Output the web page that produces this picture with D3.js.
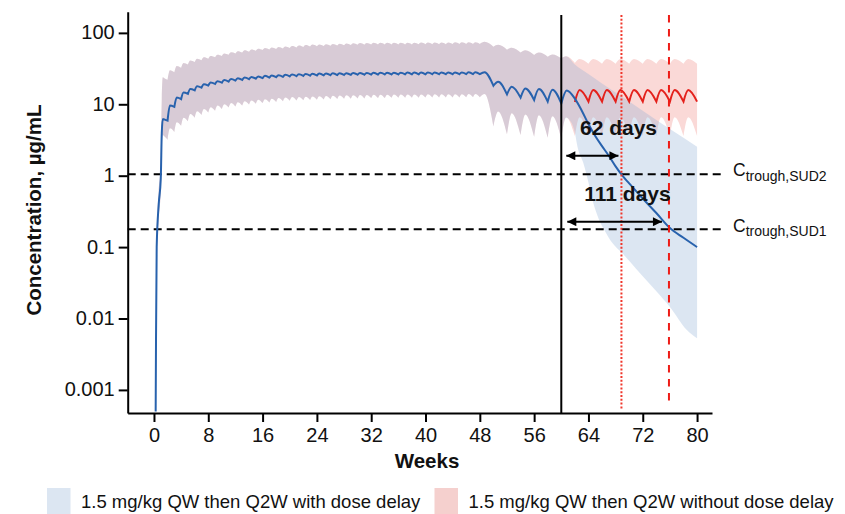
<!DOCTYPE html>
<html>
<head>
<meta charset="utf-8">
<script src="https://cdn.jsdelivr.net/npm/d3@7"></script>
<style>
  body { margin: 0; background: #fff; }
  text { font-family: "Liberation Sans", Arial, sans-serif; fill: #111; }
</style>
</head>
<body>
<div id="wrapper"></div>
<script>
// ---- data (weeks, concentration in ug/mL) ----

const weekTicks = [0, 8, 16, 24, 32, 40, 48, 56, 64, 72, 80];
const concTicks = [0.001, 0.01, 0.1, 1, 10, 100];
const concTickLabels = ["0.001", "0.01", "0.1", "1", "10", "100"];

// first dose absorption (weeks 0-2)
const loadWeeks   = [0.25, 0.3, 0.4, 0.7, 1.0, 1.15, 1.3, 1.6, 2];
const medianLoad  = [0.0005, 0.005, 0.1, 0.4, 0.9, 4.0, 6.2, 6.1, 5.9];
const upperLoad   = [0.0005, 0.006, 0.13, 0.6, 1.5, 12, 24, 23, 22];
const lowerLoad   = [0.0005, 0.004, 0.07, 0.25, 0.6, 2.4, 3.7, 3.5, 3.2];

// shared dosing, QW to week 48 then Q2W to week 60
const sharedDoses = [2, 3, 4, 5, 6, 7, 8, 9, 10, 11, 12, 13, 14, 15, 16, 17, 18, 19, 20, 21, 22, 23, 24,
  25, 26, 27, 28, 29, 30, 31, 32, 33, 34, 35, 36, 37, 38, 39, 40, 41, 42, 43, 44, 45, 46, 47, 48,
  50, 52, 54, 56, 58, 60];
const medianTrough = [5.9, 9.2, 11.8, 14.0, 15.7, 17.1, 18.3, 19.3, 20.1, 20.8, 21.5, 22.0, 22.5, 22.9,
  23.3, 23.7, 24.0, 24.3, 24.6, 24.8, 25.0, 25.2, 25.3, 25.5, 25.6, 25.7, 25.8, 25.9, 26.0, 26.0, 26.1,
  26.1, 26.2, 26.2, 26.2, 26.3, 26.3, 26.3, 26.3, 26.4, 26.4, 26.4, 26.4, 26.4, 26.5, 26.5, 26.5,
  18.2, 13.8, 12.4, 11.5, 10.9, 10.3];
const medianPeak = [9.6, 12.4, 14.6, 16.4, 17.9, 19.1, 20.2, 21.1, 21.9, 22.6, 23.2, 23.7, 24.2, 24.6,
  25.0, 25.3, 25.6, 25.9, 26.1, 26.3, 26.5, 26.7, 26.9, 27.0, 27.1, 27.2, 27.3, 27.4, 27.5, 27.5, 27.6,
  27.6, 27.7, 27.7, 27.7, 27.8, 27.8, 27.8, 27.8, 27.9, 27.9, 27.9, 27.9, 27.9, 28.0, 28.0,
  28.2, 20.7, 17.6, 16.7, 16.4, 16.0];
const upperTrough = [22, 28, 32.5, 36, 39, 41.5, 43.5, 45.5, 47.5, 49.5, 51.5, 53, 54.5, 56, 57.5, 58.5,
  59.5, 60.5, 61.5, 62.5, 63.5, 64.5, 65, 65.5, 66, 66.5, 67, 67.5, 68, 68, 68.5, 68.5, 68.5, 69, 69, 69,
  69, 69.5, 69.5, 69.5, 69.5, 69.5, 70, 70, 70, 70, 70,
  64, 58, 53, 49, 46.5, 44];
const upperPeak = [30, 34.5, 38, 41, 43.5, 45.5, 47.5, 49.5, 51.5, 53.5, 55.5, 57, 58.5, 60, 61.5, 62.5,
  63.5, 64.5, 65.5, 66.5, 67.5, 68.5, 69, 69.5, 70, 70.5, 71, 71.5, 72, 72, 72.5, 72.5, 72.5, 73, 73, 73,
  73, 73.5, 73.5, 73.5, 73.5, 73.5, 74, 74, 74, 74,
  75, 68, 62, 57, 53, 50];
const lowerTrough = [3.2, 4.1, 5.0, 5.8, 6.5, 7.1, 7.7, 8.1, 8.6, 9.0, 9.3, 9.6, 9.9, 10.2, 10.4, 10.6,
  10.8, 11.0, 11.2, 11.3, 11.4, 11.5, 11.6, 11.7, 11.8, 11.9, 12.0, 12.0, 12.1, 12.1, 12.2, 12.2, 12.2,
  12.3, 12.3, 12.3, 12.3, 12.3, 12.4, 12.4, 12.4, 12.4, 12.4, 12.4, 12.5, 12.5, 12.5,
  4.9, 3.8, 3.7, 3.5, 3.4, 3.3];
const lowerPeak = [4.6, 5.6, 6.5, 7.3, 8.0, 8.6, 9.1, 9.6, 10.0, 10.4, 10.7, 11.0, 11.3, 11.6, 11.8, 12.0,
  12.2, 12.4, 12.6, 12.7, 12.8, 12.9, 13.0, 13.1, 13.2, 13.3, 13.4, 13.4, 13.5, 13.5, 13.6, 13.6, 13.6,
  13.7, 13.7, 13.7, 13.7, 13.7, 13.8, 13.8, 13.8, 13.8, 13.8, 13.8, 13.9, 13.9,
  13.9, 7.9, 7.5, 7.2, 7.0, 6.8];

// without dose delay: Q2W continues to week 80
const redDoses = [60, 62, 64, 66, 68, 70, 72, 74, 76, 78, 80];
const redMedianTrough = [10.3, 10.8, 10.9, 10.9, 10.9, 10.9, 10.9, 10.9, 10.9, 10.9, 10.9];
const redMedianPeak   = [15.6, 15.8, 15.8, 15.8, 15.8, 15.8, 15.8, 15.8, 15.8, 15.8];
const redUpperTrough  = [44, 38, 37, 37, 37, 37, 37, 37, 37, 37, 37];
const redUpperPeak    = [47, 43, 43, 43, 43, 43, 43, 43, 43, 43];
const redLowerTrough  = [3.3, 3.6, 3.6, 3.6, 3.6, 3.6, 3.6, 3.6, 3.6, 3.6, 3.6];
const redLowerPeak    = [6.6, 6.6, 6.6, 6.6, 6.6, 6.6, 6.6, 6.6, 6.6, 6.6];

// with dose delay: no dose after week 60
const delayWeeks  = [60, 60.8, 62, 63, 64, 65, 66, 67, 68, 69, 70, 72, 74, 76, 78, 80];
const delayMedian = [10.3, 15.6, 12, 8.2, 5.3, 3.6, 2.6, 1.9, 1.35, 1.0, 0.78, 0.48, 0.3, 0.185, 0.135, 0.1];
const delayUpperWeeks = [60, 60.7, 62, 64, 66, 68, 72, 76, 80];
const delayUpper      = [44, 47, 36, 26.5, 19.5, 14.6, 8.1, 4.5, 2.55];
const delayLowerWeeks = [60, 60.7, 61.5, 62, 62.4, 63.25, 64, 64.7, 65.5, 66.4, 67.5, 69, 71.6, 74, 76, 78.5, 80];
const delayLower      = [3.3, 6.5, 5.5, 4.0, 2.5, 1.5, 0.8, 0.42, 0.25, 0.17, 0.115, 0.082, 0.043, 0.024, 0.0145, 0.0069, 0.0053];

// thresholds and delays
const troughSUD2 = 1.05;
const troughSUD1 = 0.178;
const delayStartWeek = 60;
const daysLabels = ["62 days", "111 days"];
const daysEndWeek = [68.86, 75.86];

const legendLabels = [
  "1.5 mg/kg QW then Q2W with dose delay",
  "1.5 mg/kg QW then Q2W without dose delay"
];

function drawChart() {

  // dimensions

  const dms = {
    width: 845,
    height: 514,
    margins: { top: 11.7, right: 133, bottom: 101, left: 127.7 }
  };
  dms.innerWidth = dms.width - dms.margins.left - dms.margins.right;
  dms.innerHeight = dms.height - dms.margins.top - dms.margins.bottom;

  const svg = d3.select("#wrapper")
    .append("svg")
      .attr("width", dms.width)
      .attr("height", dms.height)
      .style("display", "block");

  svg.append("rect")
    .attr("width", dms.width).attr("height", dms.height).attr("fill", "#fff");

  const defs = svg.append("defs");
  defs.append("marker")
      .attr("id", "head")
      .attr("viewBox", "0 0 10 10")
      .attr("refX", 10).attr("refY", 5)
      .attr("markerWidth", 10).attr("markerHeight", 9)
      .attr("markerUnits", "userSpaceOnUse")
      .attr("orient", "auto-start-reverse")
    .append("path")
      .attr("d", "M0,0L10,5L0,10Z")
      .attr("fill", "#000");

  const inner = svg.append("g")
    .attr("transform", `translate(${dms.margins.left},${dms.margins.top})`);

  // scales

  const xScale = d3.scaleLinear()
    .domain([-3.87, 82.2])
    .range([0, dms.innerWidth]);

  const yScale = d3.scaleLog()
    .domain([0.000475, 198])
    .range([dms.innerHeight, 0]);

  // path helpers

  const peakFrac = 0.35;
  const zip = (a, b) => a.map((v, i) => [v, b[i]]);

  const cycles = (doses, troughs, peaks) => peaks.map((p, i) => {
    const t0 = doses[i], t1 = doses[i + 1];
    return [[t0, troughs[i]], [t0 + peakFrac * (t1 - t0), p], [t1, troughs[i + 1]]];
  });

  const lineGen = d3.line()
    .x(d => xScale(d[0]))
    .y(d => yScale(d[1]))
    .curve(d3.curveMonotoneX);

  const segPath = segs => segs
    .map((s, i) => i ? lineGen(s).replace(/^M/, "L") : lineGen(s))
    .join("");

  const bandPath = (upper, lower) => {
    const rev = lower.slice().reverse().map(s => s.slice().reverse());
    return segPath(upper) + segPath(rev).replace(/^M/, "L") + "Z";
  };

  const sharedMedian = [zip(loadWeeks, medianLoad), ...cycles(sharedDoses, medianTrough, medianPeak)];
  const sharedUpper  = [zip(loadWeeks, upperLoad),  ...cycles(sharedDoses, upperTrough, upperPeak)];
  const sharedLower  = [zip(loadWeeks, lowerLoad),  ...cycles(sharedDoses, lowerTrough, lowerPeak)];

  // bands

  inner.append("path")
    .attr("d", bandPath(
      [...sharedUpper, ...cycles(redDoses, redUpperTrough, redUpperPeak)],
      [...sharedLower, ...cycles(redDoses, redLowerTrough, redLowerPeak)]))
    .attr("fill", "#fad9d7");

  inner.append("path")
    .attr("d", bandPath(
      [...sharedUpper, zip(delayUpperWeeks, delayUpper)],
      [...sharedLower, zip(delayLowerWeeks, delayLower)]))
    .attr("fill", "#8aacd4")
    .attr("fill-opacity", 0.3);

  // threshold lines

  [troughSUD2, troughSUD1].forEach(v => {
    inner.append("line")
      .attr("x1", 0).attr("x2", 597.5)
      .attr("y1", yScale(v)).attr("y2", yScale(v))
      .attr("stroke", "#000")
      .attr("stroke-width", 2)
      .attr("stroke-dasharray", "8,5");
  });

  // median lines

  inner.append("path")
    .attr("d", segPath(cycles(redDoses, redMedianTrough, redMedianPeak).slice(1)))
    .attr("fill", "none")
    .attr("stroke", "#e4211c")
    .attr("stroke-width", 2);

  inner.append("path")
    .attr("d", segPath([...sharedMedian, zip(delayWeeks, delayMedian)]))
    .attr("fill", "none")
    .attr("stroke", "#2862ad")
    .attr("stroke-width", 2);

  // vertical markers

  inner.append("line")
    .attr("x1", xScale(delayStartWeek)).attr("x2", xScale(delayStartWeek))
    .attr("y1", 3.3).attr("y2", dms.innerHeight)
    .attr("stroke", "#000").attr("stroke-width", 2);

  inner.append("line")
    .attr("x1", xScale(daysEndWeek[0])).attr("x2", xScale(daysEndWeek[0]))
    .attr("y1", 3.3).attr("y2", dms.innerHeight - 3)
    .attr("stroke", "#f0362b").attr("stroke-width", 2)
    .attr("stroke-dasharray", "2,1.8");

  inner.append("line")
    .attr("x1", xScale(daysEndWeek[1])).attr("x2", xScale(daysEndWeek[1]))
    .attr("y1", 3.3).attr("y2", dms.innerHeight - 7)
    .attr("stroke", "#ee1c16").attr("stroke-width", 2)
    .attr("stroke-dasharray", "7.5,6.5");

  // day arrows and labels

  const arrowY = [1.9, 0.227];
  const arrowGap = [[5, 3], [6, 7]];
  const labelX = [618.5, 627.5];
  const labelY = [135, 200.7];

  daysLabels.forEach((lab, i) => {
    inner.append("line")
      .attr("x1", xScale(delayStartWeek) + arrowGap[i][0])
      .attr("x2", xScale(daysEndWeek[i]) - arrowGap[i][1])
      .attr("y1", yScale(arrowY[i])).attr("y2", yScale(arrowY[i]))
      .attr("stroke", "#000").attr("stroke-width", 2)
      .attr("marker-start", "url(#head)")
      .attr("marker-end", "url(#head)");

    svg.append("text")
      .attr("x", labelX[i]).attr("y", labelY[i])
      .attr("text-anchor", "middle")
      .style("font-size", "21px")
      .style("font-weight", "bold")
      .text(lab);
  });

  // threshold labels

  [[troughSUD2, "trough,SUD2"], [troughSUD1, "trough,SUD1"]].forEach(([v, sub]) => {
    const t = svg.append("text")
      .attr("x", 733)
      .attr("y", dms.margins.top + yScale(v) + 2.3);
    t.append("tspan").style("font-size", "17.5px").text("C");
    t.append("tspan").style("font-size", "14px").attr("dy", 4.2).text(sub);
  });

  // axes

  const xAxis = inner.append("g")
    .attr("transform", `translate(0,${dms.innerHeight})`)
    .call(d3.axisBottom(xScale)
      .tickValues(weekTicks)
      .tickSize(9)
      .tickSizeOuter(0)
      .tickPadding(6));

  const yAxis = inner.append("g")
    .call(d3.axisLeft(yScale)
      .tickValues(concTicks)
      .tickFormat((d, i) => concTickLabels[i])
      .tickSize(9)
      .tickSizeOuter(0)
      .tickPadding(4));

  [xAxis, yAxis].forEach(ax => {
    ax.select(".domain").attr("stroke", "#000").attr("stroke-width", 2);
    ax.selectAll(".tick line").attr("stroke", "#000").attr("stroke-width", 2);
    ax.selectAll(".tick text")
      .attr("fill", "#111")
      .style("font-size", "20px")
      .style("font-family", "'Liberation Sans', Arial, sans-serif");
  });
  yAxis.selectAll(".tick text").attr("dy", "0.3em");

  svg.append("text")
    .attr("x", 427).attr("y", 468)
    .attr("text-anchor", "middle")
    .style("font-size", "20.5px")
    .style("font-weight", "bold")
    .text("Weeks");

  svg.append("text")
    .attr("transform", "translate(41,210) rotate(-90)")
    .attr("text-anchor", "middle")
    .style("font-size", "20.5px")
    .style("font-weight", "bold")
    .text("Concentration, \u00b5g/mL");

  // legend

  const legendX = [47, 434.5];
  const legendFill = ["#dce6f2", "#f5d0ce"];
  legendLabels.forEach((lab, i) => {
    svg.append("rect")
      .attr("x", legendX[i]).attr("y", 488)
      .attr("width", 23.5).attr("height", 26)
      .attr("fill", legendFill[i]);
    svg.append("text")
      .attr("x", legendX[i] + 34).attr("y", 507.5)
      .style("font-size", "18.5px")
      .text(lab);
  });
}

drawChart();
</script>
</body>
</html>
